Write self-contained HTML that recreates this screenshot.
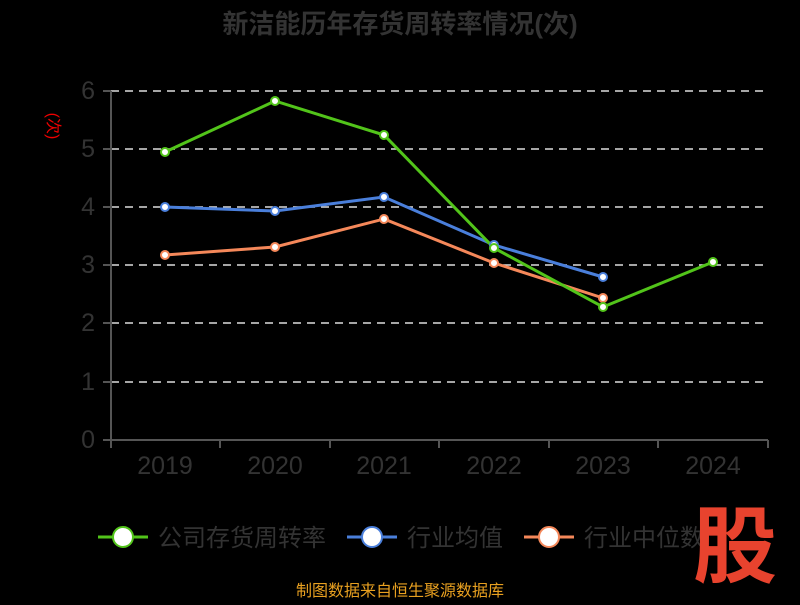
<!DOCTYPE html>
<html><head><meta charset="utf-8"><style>
body{margin:0;background:#000;width:800px;height:600px;overflow:hidden;font-family:"Liberation Sans","Noto Sans CJK SC",sans-serif}
</style></head><body>
<svg width="800" height="600" xmlns="http://www.w3.org/2000/svg" font-family="Liberation Sans, Noto Sans CJK SC, sans-serif">
<rect width="800" height="600" fill="#000"/>
<text x="400" y="33" text-anchor="middle" font-size="26" font-weight="bold" fill="#333">新洁能历年存货周转率情况(次)</text>
<text x="48" y="126" text-anchor="middle" font-size="16" fill="#e00" transform="rotate(90 48 126)">(次)</text>
<g stroke="#ddd" stroke-width="1.5" stroke-dasharray="8,6">
<line x1="111" y1="91" x2="768" y2="91"/><line x1="111" y1="149" x2="768" y2="149"/>
<line x1="111" y1="207" x2="768" y2="207"/><line x1="111" y1="265" x2="768" y2="265"/>
<line x1="111" y1="323" x2="768" y2="323"/><line x1="111" y1="382" x2="768" y2="382"/>
</g>
<g stroke="#555" stroke-width="2">
<line x1="111" y1="91" x2="111" y2="440"/><line x1="111" y1="440" x2="768" y2="440"/>
<line x1="103" y1="91" x2="111" y2="91"/><line x1="103" y1="149" x2="111" y2="149"/><line x1="103" y1="207" x2="111" y2="207"/><line x1="103" y1="265" x2="111" y2="265"/><line x1="103" y1="323" x2="111" y2="323"/><line x1="103" y1="382" x2="111" y2="382"/><line x1="103" y1="440" x2="111" y2="440"/>
<line x1="220" y1="440" x2="220" y2="448"/><line x1="330" y1="440" x2="330" y2="448"/><line x1="439" y1="440" x2="439" y2="448"/><line x1="549" y1="440" x2="549" y2="448"/><line x1="658" y1="440" x2="658" y2="448"/><line x1="768" y1="440" x2="768" y2="448"/><line x1="111" y1="440" x2="111" y2="448"/>
</g>
<g font-size="25" fill="#333" text-anchor="end">
<text x="95" y="99">6</text><text x="95" y="157">5</text><text x="95" y="215">4</text><text x="95" y="273">3</text><text x="95" y="331">2</text><text x="95" y="390">1</text><text x="95" y="448">0</text>
</g>
<g font-size="25" fill="#333" text-anchor="middle">
<text x="165" y="474">2019</text><text x="275" y="474">2020</text><text x="384" y="474">2021</text><text x="494" y="474">2022</text><text x="603" y="474">2023</text><text x="713" y="474">2024</text>
</g>
<polyline fill="none" stroke="#4a7fdb" stroke-width="3" points="165,207 275,211 384,197 494,245 603,277"/>
<polyline fill="none" stroke="#f5885a" stroke-width="3" points="165,255 275,247 384,219 494,263 603,298"/>
<polyline fill="none" stroke="#52c41a" stroke-width="3" points="165,152 275,101 384,135 494,248 603,307 713,262"/>
<g fill="#fff" stroke="#4a7fdb" stroke-width="2"><circle cx="165" cy="207" r="4"/><circle cx="275" cy="211" r="4"/><circle cx="384" cy="197" r="4"/><circle cx="494" cy="245" r="4"/><circle cx="603" cy="277" r="4"/></g>
<g fill="#fff" stroke="#f5885a" stroke-width="2"><circle cx="165" cy="255" r="4"/><circle cx="275" cy="247" r="4"/><circle cx="384" cy="219" r="4"/><circle cx="494" cy="263" r="4"/><circle cx="603" cy="298" r="4"/></g>
<g fill="#fff" stroke="#52c41a" stroke-width="2"><circle cx="165" cy="152" r="4"/><circle cx="275" cy="101" r="4"/><circle cx="384" cy="135" r="4"/><circle cx="494" cy="248" r="4"/><circle cx="603" cy="307" r="4"/><circle cx="713" cy="262" r="4"/></g>
<g font-size="24" fill="#333">
<line x1="98" y1="537" x2="148" y2="537" stroke="#52c41a" stroke-width="3"/><circle cx="123" cy="537" r="10" fill="#fff" stroke="#52c41a" stroke-width="2"/>
<text x="158" y="546">公司存货周转率</text>
<line x1="347" y1="537" x2="397" y2="537" stroke="#4a7fdb" stroke-width="3"/><circle cx="372" cy="537" r="10" fill="#fff" stroke="#4a7fdb" stroke-width="2"/>
<text x="407" y="546">行业均值</text>
<line x1="524" y1="537" x2="574" y2="537" stroke="#f5885a" stroke-width="3"/><circle cx="549" cy="537" r="10" fill="#fff" stroke="#f5885a" stroke-width="2"/>
<text x="584" y="546">行业中位数</text>
</g>
<text x="735" y="576" text-anchor="middle" font-size="84" font-weight="bold" fill="#e8432e">股</text>
<text x="400" y="596" text-anchor="middle" font-size="16" fill="#e8a020">制图数据来自恒生聚源数据库</text>
</svg>
</body></html>
